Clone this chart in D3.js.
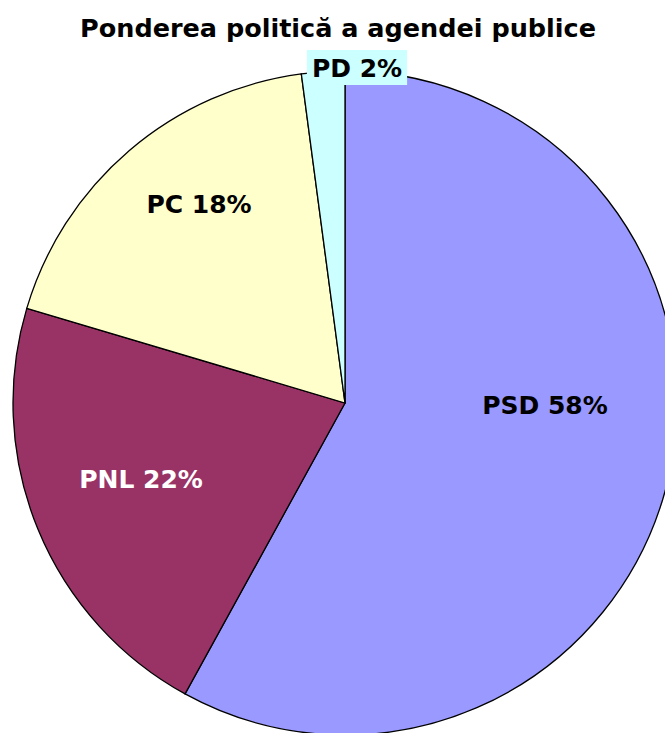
<!DOCTYPE html>
<html>
<head>
<meta charset="utf-8">
<script src="https://cdn.jsdelivr.net/npm/d3@7"></script>
<style>
  html, body { margin: 0; padding: 0; background: #fff; overflow: hidden; }
  svg { display: block; }
</style>
</head>
<body>
<div id="chart"></div>
<script>
// chart data
const parties = ["PSD", "PNL", "PC", "PD"];
const shares = [58, 21.6, 18.3, 2.1];
const colors = ["#9999FF", "#993366", "#FFFFCC", "#CCFFFF"];
const labelColors = ["#000", "#fff", "#000", "#000"];

const width = 665;
const height = 733;
const cx = 345, cy = 403, radius = 332;

// label centres, relative to the pie centre
const labelOffsets = [[200, 2], [-204, 76], [-146, -199], [12, -335]];

const svg = d3.select("#chart")
  .append("svg")
  .attr("width", width)
  .attr("height", height);

// title
svg.append("text")
  .attr("x", 338)
  .attr("y", 37)
  .attr("text-anchor", "middle")
  .attr("font-family", "Verdana, 'DejaVu Sans', sans-serif")
  .attr("font-weight", "bold")
  .attr("font-size", "25.5px")
  .text("Ponderea politică a agendei publice");

const data = parties.map((p, i) => ({ party: p, value: shares[i], color: colors[i], labelColor: labelColors[i] }));

const pie = d3.pie().value(d => d.value).sort(null);
const arc = d3.arc().innerRadius(0).outerRadius(radius);
const arcs = pie(data);

const g = svg.append("g").attr("transform", `translate(${cx},${cy})`);

g.selectAll("path")
  .data(arcs)
  .enter()
  .append("path")
  .attr("d", arc)
  .attr("fill", d => d.data.color)
  .attr("stroke", "#000")
  .attr("stroke-width", 1.3);

const labels = g.selectAll("g.label")
  .data(arcs)
  .enter()
  .append("g")
  .attr("class", "label");

labels.each(function (d, i) {
  const sel = d3.select(this);
  const [x, y] = labelOffsets[i];
  const t = sel.append("text")
    .attr("x", x)
    .attr("y", y)
    .attr("dy", "0.36em")
    .attr("text-anchor", "middle")
    .attr("font-family", "Verdana, 'DejaVu Sans', sans-serif")
    .attr("font-weight", "bold")
    .attr("font-size", "25px")
    .attr("fill", d.data.labelColor)
    .text(`${d.data.party} ${Math.round(d.data.value)}%`);
  // the small slice gets its label on a filled box outside the pie
  if (d.data.party === "PD") {
    const bb = t.node().getBBox();
    sel.insert("rect", "text")
      .attr("x", bb.x - 5)
      .attr("y", bb.y - 4)
      .attr("width", bb.width + 10)
      .attr("height", bb.height + 6)
      .attr("fill", "#CCFFFF");
  }
});
</script>
</body>
</html>
